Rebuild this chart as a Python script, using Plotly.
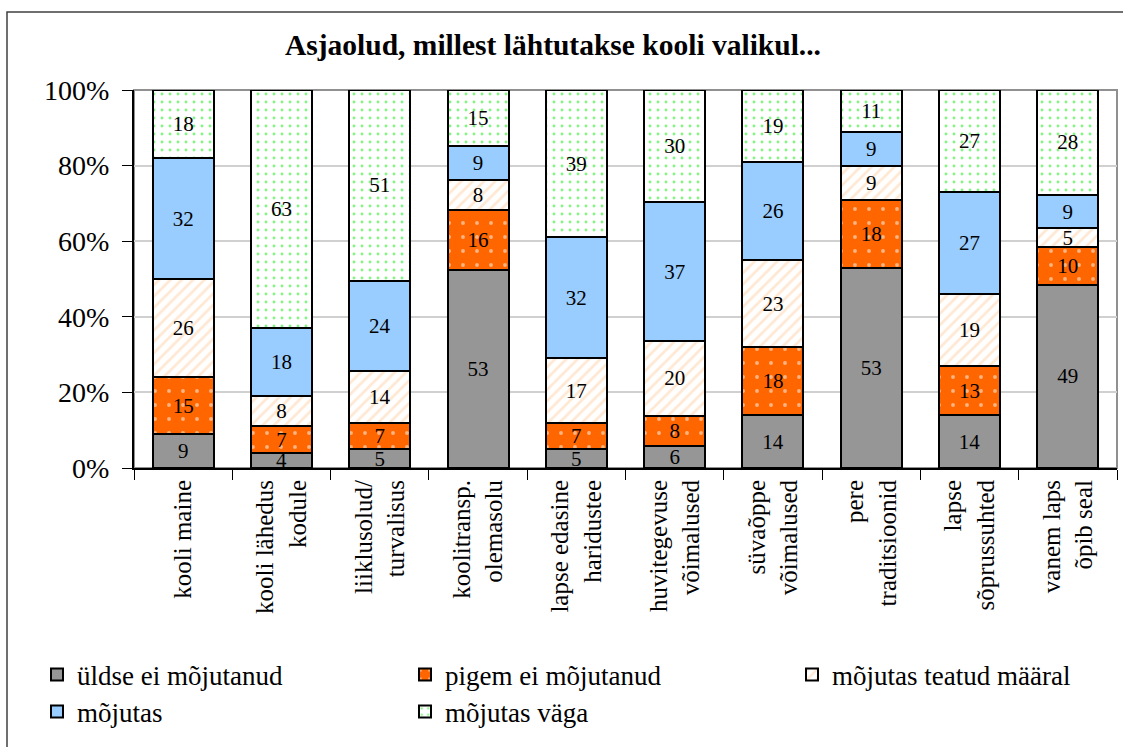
import plotly.graph_objects as go

categories = [
    "kooli maine",
    "kooli lähedus<br>kodule",
    "liiklusolud/<br>turvalisus",
    "koolitransp.<br>olemasolu",
    "lapse edasine<br>haridustee",
    "huvitegevuse<br>võimalused",
    "süvaõppe<br>võimalused",
    "pere<br>traditsioonid",
    "lapse<br>sõprussuhted",
    "vanem laps<br>õpib seal",
]

series_names = [
    "üldse ei mõjutanud",
    "pigem ei mõjutanud",
    "mõjutas teatud määral",
    "mõjutas",
    "mõjutas väga",
]

uldse_ei = [9, 4, 5, 53, 5, 6, 14, 53, 14, 49]
pigem_ei = [15, 7, 7, 16, 7, 8, 18, 18, 13, 10]
teatud_maaral = [26, 8, 14, 8, 17, 20, 23, 9, 19, 5]
mojutas = [32, 18, 24, 9, 32, 37, 26, 9, 27, 9]
mojutas_vaga = [18, 63, 51, 15, 39, 30, 19, 11, 27, 28]

y_tickvals = [0, 20, 40, 60, 80, 100]
y_ticktext = ["0%", "20%", "40%", "60%", "80%", "100%"]

series_values = [uldse_ei, pigem_ei, teatud_maaral, mojutas, mojutas_vaga]

styles = [
    dict(color="#969696", pattern=dict(shape="")),
    dict(color="#FF6600", pattern=dict(shape=".", fgcolor="#FFFFFF", bgcolor="#FF6600",
                                       size=14, solidity=0.06, fillmode="overlay")),
    dict(color="#FFFFFF", pattern=dict(shape="/", fgcolor="#FFD2A8", bgcolor="#FFFFFF",
                                       size=8, solidity=0.35, fillmode="overlay")),
    dict(color="#99CCFF", pattern=dict(shape="")),
    dict(color="#FFFFFF", pattern=dict(shape=".", fgcolor="#00EE00", bgcolor="#FFFFFF",
                                       size=8, solidity=0.1, fillmode="overlay")),
]

FONT = "Liberation Serif, Times New Roman, serif"

W, H = 1123, 747
L, R, T, B = 134, 6, 90, 279
pw = W - L - R
ph = H - T - B

# legend slot per series: (legend id, symbol-centre x px, row-centre y px)
legend_slots = [("legend", 57, 675), ("legend2", 425, 675), ("legend3", 812, 675),
                ("legend4", 57, 712), ("legend5", 425, 712)]

fig = go.Figure()
for name, vals, st, slot in zip(series_names, series_values, styles, legend_slots):
    fig.add_trace(go.Bar(
        name=name,
        x=categories,
        y=vals,
        legend=slot[0],
        showlegend=True,
        text=[str(v) for v in vals],
        textposition="inside",
        insidetextanchor="middle",
        textangle=0,
        textfont=dict(family=FONT, size=21, color="black"),
        marker=dict(color=st["color"], pattern=st["pattern"],
                    line=dict(color="black", width=2)),
    ))

legends = {}
for lid, cx, cy in legend_slots:
    legends[lid] = dict(
        orientation="v",
        xref="container", yref="container",
        x=(cx - 20) / W, xanchor="left",
        y=1 - cy / H, yanchor="middle",
        font=dict(family=FONT, size=27, color="black"),
        itemclick=False, itemdoubleclick=False,
        bgcolor="rgba(0,0,0,0)",
        visible=True,
    )

fig.update_layout(
    width=W, height=H,
    showlegend=True,
    barmode="stack",
    barnorm="percent",
    bargap=0.38,
    paper_bgcolor="white",
    plot_bgcolor="white",
    margin=dict(l=L, r=R, t=T, b=B, autoexpand=False),
    font=dict(family=FONT, color="black"),
    uniformtext=dict(minsize=21, mode="show"),
    title=dict(
        text="<b>Asjaolud, millest lähtutakse kooli valikul...</b>",
        font=dict(family=FONT, size=29.5, color="black"),
        x=553 / W, xanchor="center", xref="container",
        y=1 - 45 / H, yanchor="middle", yref="container",
    ),
    xaxis=dict(
        tickangle=-90,
        tickfont=dict(family=FONT, size=25, color="black"),
        showline=True, linecolor="black", linewidth=2,
        ticks="outside", tickson="boundaries", ticklen=10, tickcolor="black", tickwidth=1,
        showgrid=False,
    ),
    yaxis=dict(
        range=[0, 100],
        tickmode="array",
        tickvals=y_tickvals,
        ticktext=y_ticktext,
        tickfont=dict(family=FONT, size=28, color="black"),
        ticklabelstandoff=7,
        showline=True, linecolor="black", linewidth=2,
        ticks="outside", ticklen=10, tickcolor="black", tickwidth=1,
        showgrid=True, gridcolor="#D0D0D0", gridwidth=1.5,
        zeroline=False,
    ),
    shapes=[
        dict(type="rect", xref="paper", yref="paper", x0=0, x1=1, y0=0, y1=1,
             line=dict(color="#909090", width=2), layer="below"),
        dict(type="rect", xref="paper", yref="paper",
             x0=(7 - L) / pw, x1=(W + 10 - L) / pw,
             y0=-(H + 10 - T - ph) / ph, y1=(ph + T - 12) / ph,
             line=dict(color="#404040", width=1.5), layer="below"),
    ],
    **legends,
)

fig.write_html(
    "out.html",
    config={"displayModeBar": False},
    post_script="document.body.style.margin='0px';document.body.style.padding='0px';"
                "document.body.style.overflow='hidden';",
)
